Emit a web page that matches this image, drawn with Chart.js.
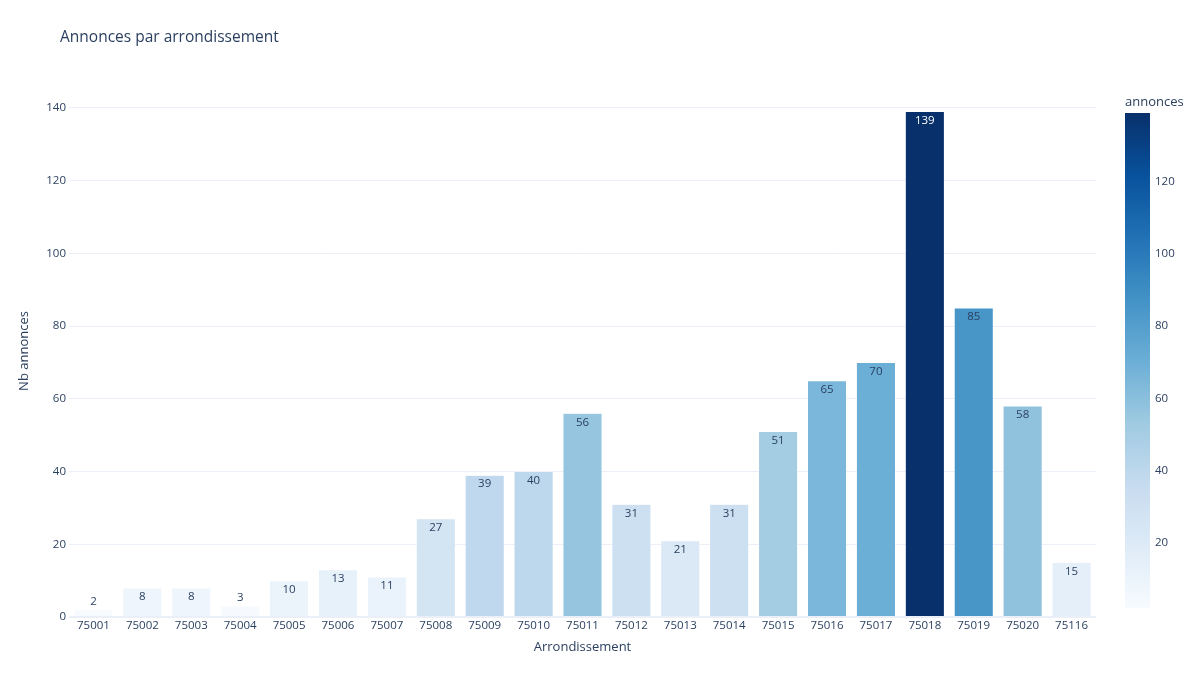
<!DOCTYPE html>
<html>
<head>
<meta charset="utf-8">
<script src="https://cdn.jsdelivr.net/npm/chart.js@4.4.0/dist/chart.umd.min.js"></script>
<style>
    html, body { margin: 0; padding: 0; background: #fff; }
    #wrap { width: 1200px; height: 686px; }
</style>
</head>
<body>
<div id="wrap"><canvas id="barChart" width="1200" height="686"></canvas></div>
<script>
// Data
const arrondissements = ['75001', '75002', '75003', '75004', '75005', '75006', '75007',
    '75008', '75009', '75010', '75011', '75012', '75013', '75014', '75015', '75016',
    '75017', '75018', '75019', '75020', '75116'];
const annonces = [2, 8, 8, 3, 10, 13, 11, 27, 39, 40, 56, 31, 21, 31, 51, 65, 70, 139, 85, 58, 15];
const yTicks = [0, 20, 40, 60, 80, 100, 120, 140];
const colorbarTicks = [20, 40, 60, 80, 100, 120];

const FONT = '"Open Sans", verdana, arial, sans-serif';
const TEXT = '#2a3f5f';
const GRID = '#EBF0F8';

// Blues colour scale
const blues = [
    [0, [247, 251, 255]], [0.125, [222, 235, 247]], [0.25, [198, 219, 239]],
    [0.375, [158, 202, 225]], [0.5, [107, 174, 214]], [0.625, [66, 146, 198]],
    [0.75, [33, 113, 181]], [0.875, [8, 81, 156]], [1, [8, 48, 107]]
];
const cmin = Math.min(...annonces);
const cmax = Math.max(...annonces);

function scaleRgb(t) {
    t = Math.max(0, Math.min(1, t));
    for (let i = 1; i < blues.length; i++) {
        if (t <= blues[i][0]) {
            const [t0, c0] = blues[i - 1];
            const [t1, c1] = blues[i];
            const f = (t - t0) / (t1 - t0);
            return c0.map((v, k) => Math.round(v + (c1[k] - v) * f));
        }
    }
    return blues[blues.length - 1][1];
}
function colorFor(v) {
    const c = scaleRgb((v - cmin) / (cmax - cmin));
    return `rgb(${c[0]},${c[1]},${c[2]})`;
}
function isDark(v) {
    const c = scaleRgb((v - cmin) / (cmax - cmin));
    return (c[0] * 299 + c[1] * 587 + c[2] * 114) / 1000 < 128;
}

// Title, bar labels and colour bar
const extrasPlugin = {
    id: 'extras',
    afterDatasetsDraw(chart) {
        const ctx = chart.ctx;
        const area = chart.chartArea;
        ctx.save();

        // title
        ctx.font = '15.5px ' + FONT;
        ctx.fillStyle = TEXT;
        ctx.textAlign = 'left';
        ctx.textBaseline = 'middle';
        ctx.fillText('Annonces par arrondissement', 60, 38);

        // bar labels
        const meta = chart.getDatasetMeta(0);
        ctx.font = '11.5px ' + FONT;
        ctx.textAlign = 'center';
        meta.data.forEach((bar, i) => {
            const v = annonces[i];
            const h = bar.base - bar.y;
            if (h >= 20) {
                ctx.fillStyle = isDark(v) ? '#fff' : TEXT;
                ctx.fillText(String(v), bar.x, bar.y + 9);
            } else {
                ctx.fillStyle = TEXT;
                ctx.fillText(String(v), bar.x, bar.y - 8);
            }
        });

        // colour bar
        const cbLeft = area.right + 29;
        const cbWidth = 25;
        const cbTop = area.top + 28;
        const cbBottom = area.bottom - 9;
        const grad = ctx.createLinearGradient(0, cbBottom, 0, cbTop);
        blues.forEach(([t, c]) => grad.addColorStop(t, `rgb(${c[0]},${c[1]},${c[2]})`));
        ctx.fillStyle = grad;
        ctx.fillRect(cbLeft, cbTop, cbWidth, cbBottom - cbTop);

        ctx.fillStyle = TEXT;
        ctx.font = '11.5px ' + FONT;
        ctx.textAlign = 'left';
        colorbarTicks.forEach(t => {
            const y = cbBottom - (t - cmin) / (cmax - cmin) * (cbBottom - cbTop);
            ctx.fillText(String(t), cbLeft + 30, y);
        });
        ctx.font = '13px ' + FONT;
        ctx.fillText('annonces', cbLeft, cbTop - 11);

        ctx.restore();
    }
};

new Chart(document.getElementById('barChart'), {
    type: 'bar',
    data: {
        labels: arrondissements,
        datasets: [{
            label: 'annonces',
            data: annonces,
            backgroundColor: annonces.map(colorFor),
            borderColor: '#fff',
            borderWidth: 0.5,
            barPercentage: 0.8,
            categoryPercentage: 1.0
        }]
    },
    options: {
        responsive: false,
        animation: false,
        devicePixelRatio: 1,
        layout: {
            padding: { left: 0, right: 104, top: 85, bottom: 0 }
        },
        plugins: {
            legend: { display: false },
            tooltip: { enabled: false }
        },
        scales: {
            x: {
                grid: { display: false, drawTicks: false },
                border: { display: false },
                ticks: {
                    color: TEXT,
                    font: { family: FONT, size: 11.5 },
                    padding: 2,
                    maxRotation: 0,
                    autoSkip: false
                },
                title: {
                    display: true,
                    text: 'Arrondissement',
                    color: TEXT,
                    font: { family: FONT, size: 13 },
                    padding: { top: 0, bottom: 31 }
                },
                afterFit(scale) { scale.height = 69; }
            },
            y: {
                min: 0,
                max: 146.3,
                afterBuildTicks(scale) {
                    scale.ticks = yTicks.map(v => ({ value: v }));
                },
                grid: {
                    color: GRID,
                    lineWidth: c => (c.tick && c.tick.value === 0 ? 2 : 1),
                    drawTicks: false
                },
                border: { display: false },
                ticks: {
                    color: TEXT,
                    font: { family: FONT, size: 11.5 },
                    padding: 3
                },
                title: {
                    display: true,
                    text: 'Nb annonces',
                    color: TEXT,
                    font: { family: FONT, size: 13 },
                    padding: { top: 16, bottom: 0 }
                },
                afterFit(scale) { scale.width = 69; }
            }
        }
    },
    plugins: [extrasPlugin]
});
</script>
</body>
</html>
